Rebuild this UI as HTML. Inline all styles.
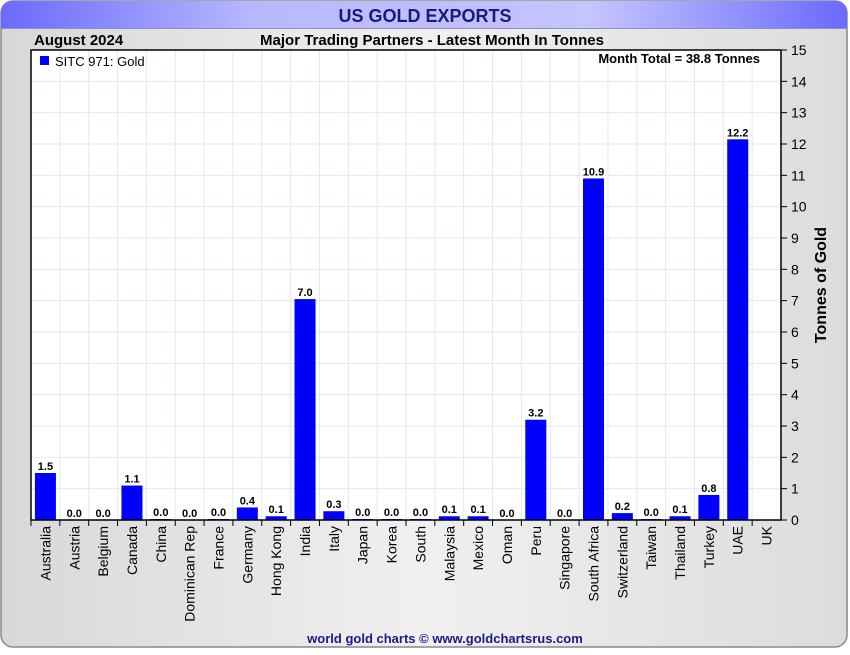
<!DOCTYPE html>
<html><head><meta charset="utf-8">
<style>
body{margin:0;width:850px;height:650px;background:#fff;overflow:hidden;font-family:"Liberation Sans",Arial,sans-serif;}
</style></head>
<body>
<svg id="chart" width="850" height="650" xmlns="http://www.w3.org/2000/svg">
<defs>
<linearGradient id="bg" x1="0" x2="1" y1="0" y2="0">
<stop offset="0" stop-color="#d8d8d8"/><stop offset="0.5" stop-color="#f0f0f0"/><stop offset="1" stop-color="#dcdcdc"/>
</linearGradient>
<linearGradient id="tb" x1="0" x2="1" y1="0" y2="0">
<stop offset="0" stop-color="#6a6aff"/><stop offset="0.3" stop-color="#b8b8ff"/><stop offset="0.7" stop-color="#c4c4ff"/><stop offset="1" stop-color="#6a6aff"/>
</linearGradient>
</defs>
<rect x="1" y="1" width="846" height="646" rx="12" fill="url(#bg)" stroke="#888" stroke-width="1.5"/>
<path d="M1,28 L1,13 Q1,1 13,1 L835,1 Q847,1 847,13 L847,28 Z" fill="url(#tb)"/>
<line x1="1" y1="28.5" x2="847" y2="28.5" stroke="#9090c0"/>
<text x="425" y="22" text-anchor="middle" font-size="18" font-weight="bold" fill="#1a1a7a">US GOLD EXPORTS</text>
<text x="34" y="45" font-size="15" font-weight="bold" fill="#000">August 2024</text>
<text x="432" y="45" text-anchor="middle" font-size="15" font-weight="bold" fill="#000">Major Trading Partners - Latest Month In Tonnes</text>
<rect x="31" y="50" width="750" height="470" fill="#fff"/>
<g id="grid"></g>
<g id="bars"></g>
<g id="axes"></g>
<rect x="40" y="56" width="9" height="9" fill="#0000ff"/>
<text x="55" y="66" font-size="13" fill="#000">SITC 971: Gold</text>
<text x="760" y="63" text-anchor="end" font-size="13" font-weight="bold" fill="#000">Month Total = 38.8 Tonnes</text>
<text transform="translate(826,285) rotate(-90)" text-anchor="middle" font-size="16" font-weight="bold" fill="#000">Tonnes of Gold</text>
<text x="445" y="643" text-anchor="middle" font-size="13" font-weight="bold" fill="#1a1a8a">world gold charts © www.goldchartsrus.com</text>
</svg>
<script>
const categories=["Australia","Austria","Belgium","Canada","China","Dominican Rep","France","Germany","Hong Kong","India","Italy","Japan","Korea","South","Malaysia","Mexico","Oman","Peru","Singapore","South Africa","Switzerland","Taiwan","Thailand","Turkey","UAE","UK"];
const values=[1.5,0,0,1.1,0.03,0,0.03,0.4,0.12,7.05,0.28,0.03,0.03,0.03,0.12,0.12,0,3.2,0,10.9,0.22,0.03,0.12,0.8,12.15,null];
const yTicks=[0,1,2,3,4,5,6,7,8,9,10,11,12,13,14,15];
const NS="http://www.w3.org/2000/svg";
const L=31,R=781,T=50,B=520,yMax=15;
const band=(R-L)/categories.length;
const xc=i=>L+band*(i+0.5);
const y=v=>B-(v/yMax)*(B-T);
function mk(tag,attrs,parent){const e=document.createElementNS(NS,tag);for(const k in attrs)e.setAttribute(k,attrs[k]);parent.appendChild(e);return e;}
const grid=document.getElementById('grid'),bars=document.getElementById('bars'),axes=document.getElementById('axes');
yTicks.forEach(t=>{
  const g=mk('line',{x1:L,x2:R,y1:y(t),y2:y(t),stroke:'#dde9f5','stroke-width':1},grid);
  
  
  const tk=mk('line',{x1:R,x2:R+6,y1:y(t),y2:y(t),stroke:'#000'},axes);
  
  
  const tl=mk('text',{x:R+10,y:y(t)+5,'font-size':14,fill:'#000'},axes);
  tl.textContent=t;
  
  
});
categories.forEach((c,i)=>{
  const gx=L+band*(i+1);
  if(i<categories.length-1){
    const g=mk('line',{x1:gx,x2:gx,y1:T,y2:B,stroke:'#dde9f5'},grid);
    
    
  }
  const tk=mk('line',{x1:L+band*i,x2:L+band*i,y1:B,y2:B+6,stroke:'#000'},axes);
  
  
  const lbl=mk('text',{transform:`translate(${xc(i)+5},${B+6}) rotate(-90)`,'text-anchor':'end','font-size':14,fill:'#000'},axes);
  lbl.textContent=c;
  
  
  const v=values[i];
  if(v!==null){
    const bw=21;
    if(v>0){
      const r=mk('rect',{x:xc(i)-bw/2,y:y(v),width:bw,height:B-y(v),fill:'#0000ff'},bars);
      
      
    }
    const vl=mk('text',{x:xc(i),y:y(v)-3,'text-anchor':'middle','font-size':11,'font-weight':'bold',fill:'#000'},bars);
    vl.textContent=v.toFixed(1);
    
    
  }
});
const fr=mk('rect',{x:L,y:T,width:R-L,height:B-T,fill:'none',stroke:'#000','stroke-width':1.5},axes);


</script>
</body></html>
